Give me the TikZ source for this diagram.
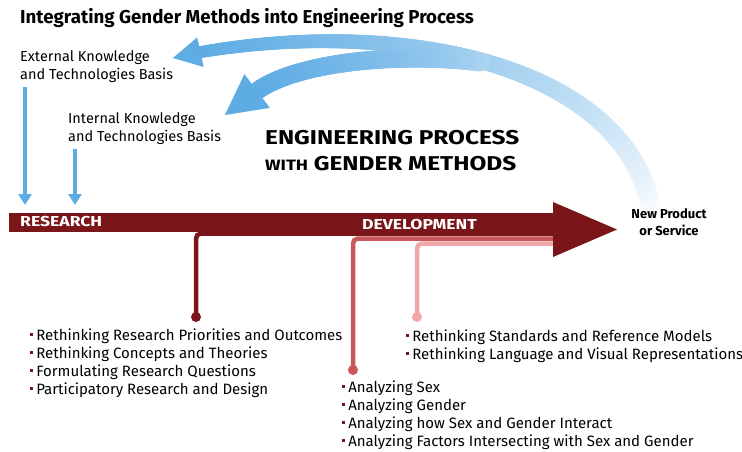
\documentclass[tikz,border=0pt]{standalone}
\usepackage{fontspec}
\setmainfont{Fira Sans}
\newfontfamily\widesans[FakeStretch=1.22]{Fira Sans}
\usetikzlibrary{arrows.meta,decorations.markings,positioning,calc}

\definecolor{procred}{HTML}{7A1619}
\definecolor{devred}{HTML}{C9565B}
\definecolor{stdred}{HTML}{F1A7A9}
\definecolor{arcblue}{HTML}{5EACE4}

\newcommand{\bulletbox}{\textcolor{procred}{\rule[0.28em]{2.6pt}{2.6pt}}\hspace{3.5pt}}

\tikzset{
  fadeband/.style n args={3}{decorate, decoration={markings,
    mark=between positions 0 and 1 step 1.5pt with {%
      \pgfmathsetmacro\bandfrac{\pgfkeysvalueof{/pgf/decoration/mark info/distance from start}/\pgfdecoratedpathlength}%
      \pgfmathsetmacro\bandpct{min(100,#1+(100-#1)*pow(\bandfrac+0.001,0.7))}%
      \pgfmathsetmacro\bandrad{#2+(#3-#2)*\bandfrac}%
      \fill[arcblue!\bandpct!white] (0,0) circle (\bandrad pt);}}},
  bandhead/.style={arcblue, line width=0.1pt, -{Triangle[#1]}}
}

\begin{document}
\begin{tikzpicture}[x=1pt, y=-1pt,
    heading/.style={anchor=base west, inner sep=0pt, font=\bfseries\fontsize{18.7}{20}\selectfont},
    basis/.style={anchor=north west, inner sep=0pt, align=left, font=\fontsize{14.5}{18}\selectfont},
    bigtitle/.style={anchor=north west, inner sep=0pt, align=left, font=\widesans\bfseries\fontsize{20}{26}\selectfont},
    phase/.style={anchor=west, inner sep=0pt, text=white, font=\widesans\bfseries\fontsize{14.4}{16}\selectfont},
    product/.style={align=center, inner sep=0pt, font=\bfseries\fontsize{13}{17}\selectfont},
    listitem/.style={anchor=base west, inner sep=0pt, font=\fontsize{15}{18}\selectfont},
    branchdot/.style={circle, inner sep=0pt, minimum size=10pt},
    branchline/.style={line width=4.5pt, rounded corners=5pt},
    droparrow/.style={arcblue, line width=4.5pt, shorten <=5pt, -{Triangle[length=11pt,width=13pt]}}
]
\useasboundingbox[fill=white] (0,0) rectangle (742,452);

% headings and knowledge sources
\node[heading] (title) at (20,24) {Integrating Gender Methods into Engineering Process};
\node[basis] (extKnow) at (20,50) {External Knowledge\\and Technologies Basis};
\node[basis] (intKnow) at (68,112) {Internal Knowledge\\and Technologies Basis};
\node[bigtitle] (engTitle) at (265,130) {ENGINEERING PROCESS\\{\fontsize{15}{14}\selectfont WITH} GENDER METHODS};

% blue feedback arcs
\coordinate (arcstart) at (650,205);
\coordinate (extbase) at (201,52);
\coordinate (exttip) at (173,58);
\coordinate (intstart) at (480,62);
\coordinate (intbase) at (257,91);
\coordinate (inttip) at (225,115);
\path[fadeband={0}{10}{6}] (arcstart) .. controls (625,75) and (420,15) .. (extbase);
\path[fadeband={50}{9.5}{9}] (intstart) .. controls (400,52) and (297,62) .. (intbase);
\draw[bandhead={length=28pt,width=30pt}] (extbase) -- (exttip);
\draw[bandhead={length=40pt,width=42pt}] (intbase) -- (inttip);

% knowledge inputs
\coordinate (extfoot) at (25,205);
\coordinate (intfoot) at (75,205);
\draw[droparrow] (extKnow.south west -| extfoot) -- (extfoot);
\draw[droparrow] (intKnow.south west -| intfoot) -- (intfoot);

% branches of the process arrow
\node[branchdot, fill=procred] (resdot) at (196,317) {};
\node[branchdot, fill=devred] (anadot) at (353,370) {};
\node[branchdot, fill=stdred] (stddot) at (417,317) {};
\coordinate (resjoin) at (556,233.5);
\coordinate (anajoin) at (556,238.5);
\coordinate (stdjoin) at (556,243.5);
\draw[branchline, stdred] (stddot.center) |- (stdjoin);
\draw[branchline, devred] (anadot.center) |- (anajoin);
\draw[branchline, procred] (resdot.center) |- (resjoin);

% process arrow
\fill[procred] (9,213) rectangle (556,231.5);
\fill[procred] (553,202) -- (617,229.5) -- (553,257) -- cycle;
\coordinate (processtip) at (617,229.5);
\node[phase] (research) at (20,222) {RESEARCH};
\node[phase] (development) at (362,225) {DEVELOPMENT};
\node[product] (newProduct) at (669,222) {New Product\\or Service};

% method lists
\foreach \txt [count=\i] in {Rethinking Research Priorities and Outcomes, Rethinking Concepts and Theories, Formulating Research Questions, Participatory Research and Design}
  \node[listitem] (resitem\i) at (30,322+18*\i) {\bulletbox\txt};
\foreach \txt [count=\i] in {Rethinking Standards and Reference Models, Rethinking Language and Visual Representations}
  \node[listitem] (stditem\i) at (406,323+18*\i) {\bulletbox\txt};
\foreach \txt [count=\i] in {Analyzing Sex, Analyzing Gender, Analyzing how Sex and Gender Interact, Analyzing Factors Intersecting with Sex and Gender}
  \node[listitem] (anaitem\i) at (342,374+18*\i) {\bulletbox\txt};

\end{tikzpicture}
\end{document}
